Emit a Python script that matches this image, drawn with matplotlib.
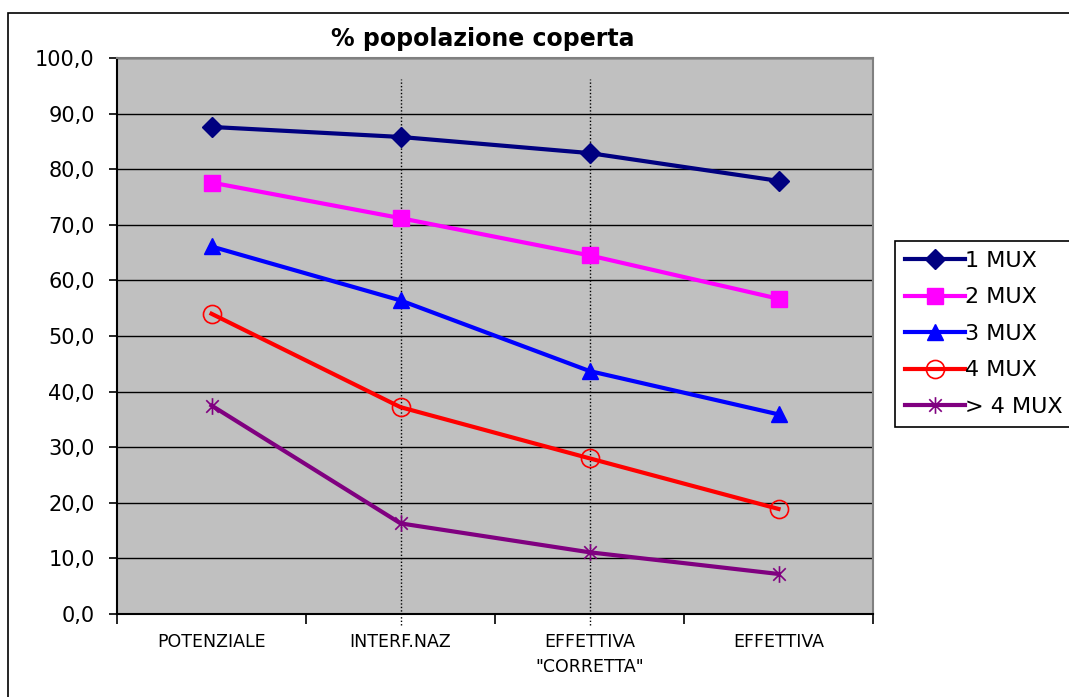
import matplotlib
matplotlib.use("Agg")
import matplotlib.pyplot as plt
from matplotlib.path import Path
from matplotlib.patches import Rectangle

categories = ["POTENZIALE", "INTERF.NAZ", "EFFETTIVA\n\"CORRETTA\"", "EFFETTIVA"]
series_names = ["1 MUX", "2 MUX", "3 MUX", "4 MUX", "> 4 MUX"]
mux1 = [87.6, 85.8, 82.9, 77.9]
mux2 = [77.6, 71.2, 64.5, 56.7]
mux3 = [66.1, 56.4, 43.7, 35.9]
mux4 = [54.0, 37.2, 28.0, 18.9]
mux5 = [37.5, 16.3, 11.1, 7.2]
y_ticks = [0, 10, 20, 30, 40, 50, 60, 70, 80, 90, 100]

# excel style star: vertical bar plus an x
star = Path([(0, -1), (0, 1), (-0.75, -0.75), (0.75, 0.75), (-0.75, 0.75), (0.75, -0.75)],
            [Path.MOVETO, Path.LINETO, Path.MOVETO, Path.LINETO, Path.MOVETO, Path.LINETO])

styles = [
    dict(color="#000080", marker="D", ms=10, mfc="#000080"),
    dict(color="#FF00FF", marker="s", ms=11, mfc="#FF00FF"),
    dict(color="#0000FF", marker="^", ms=12, mfc="#0000FF"),
    dict(color="#FF0000", marker="o", ms=13, mfc="none", mew=1.2),
    dict(color="#800080", marker=star, ms=12, mew=1.2),
]

fig = plt.figure(figsize=(10.69, 6.97), dpi=100)
fig.patch.set_facecolor("white")
# outer chart border, only left and top edges visible
fig.patches.append(Rectangle((8 / 1069, -0.1), 1.2, 1 - 13 / 697 + 0.1, transform=fig.transFigure,
                             fill=False, edgecolor="black", linewidth=1.2))

ax = fig.add_axes([117 / 1069, 1 - 614 / 697, (873 - 117) / 1069, (614 - 58) / 697])
ax.set_facecolor("#C0C0C0")

x = [0.5, 1.5, 2.5, 3.5]
for name, vals, st in zip(series_names, [mux1, mux2, mux3, mux4, mux5], styles):
    ax.plot(x, vals, lw=3, label=name, zorder=3, **st)

for xv in [1.5, 2.5]:
    ax.axvline(xv, ymin=-0.02, ymax=0.963, color="black", ls=(0, (1, 1.5)), lw=1.0,
               clip_on=False, zorder=2)

ax.set_xlim(0, 4)
ax.set_ylim(0, 100)
ax.set_yticks(y_ticks)
ax.set_yticklabels([f"{v},0" for v in y_ticks], fontsize=15)
ax.yaxis.grid(True, color="black", lw=1.0)
ax.set_axisbelow(True)
ax.set_xticks([0, 1, 2, 3, 4])
ax.set_xticklabels([])
ax.set_xticks(x, minor=True)
ax.set_xticklabels(categories, minor=True, fontsize=12.5, linespacing=1.45)
ax.tick_params(axis="x", which="minor", length=0, pad=14)
ax.tick_params(axis="x", which="major", length=7, width=1.2, direction="out")
ax.tick_params(axis="y", length=6, width=1.2, direction="out", pad=10)

for s in ["left", "bottom"]:
    ax.spines[s].set_color("black")
    ax.spines[s].set_linewidth(1.5)
for s in ["top", "right"]:
    ax.spines[s].set_color("#808080")
    ax.spines[s].set_linewidth(1.5)

fig.text(483 / 1069, 1 - 39 / 697, "% popolazione coperta", fontsize=17, fontweight="bold",
         ha="center", va="center")

leg = fig.legend(loc="upper left", bbox_to_anchor=(895 / 1069, 1 - 241 / 697), fontsize=16,
                 frameon=True, fancybox=False, framealpha=1, edgecolor="black",
                 handlelength=2.7, handletextpad=0.0, labelspacing=0.74,
                 borderpad=0.45, borderaxespad=0)
leg.get_frame().set_linewidth(1.2)

fig.savefig("out.png", dpi=100)
